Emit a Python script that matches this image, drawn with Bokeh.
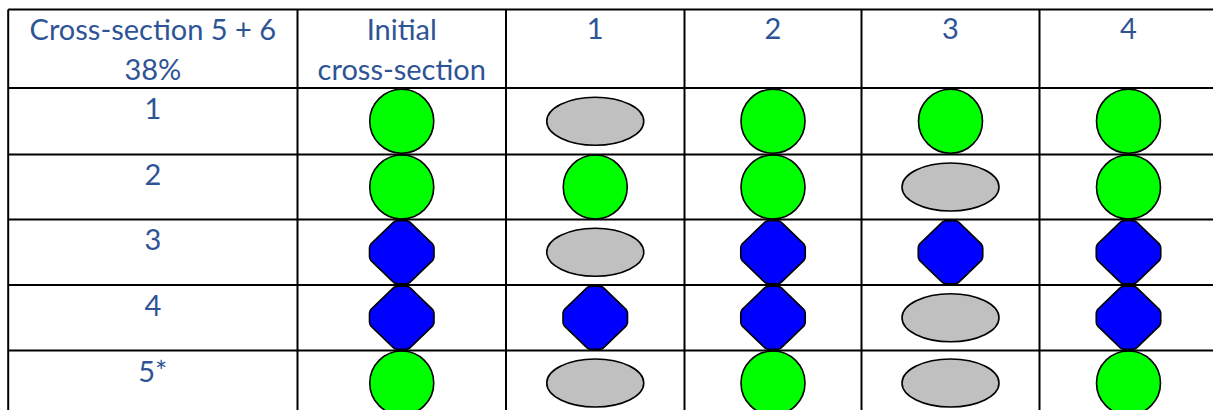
import numpy as np
from bokeh.plotting import figure
from bokeh.models import Range1d
from bokeh.core.properties import value
from bokeh.embed import file_html
from bokeh.resources import INLINE

# ---------------- data ----------------
corner_title = ["Cross-section 5 + 6", "38%"]
column_labels = [["Initial", "cross-section"], ["1"], ["2"], ["3"], ["4"]]
row_labels = ["1", "2", "3", "4", "5*"]
# shape of each cross-section (rows) at each stage (columns: Initial, 1, 2, 3, 4)
shapes = [
    ["circle", "ellipse", "circle", "circle", "circle"],
    ["circle", "circle", "circle", "ellipse", "circle"],
    ["diamond", "ellipse", "diamond", "diamond", "diamond"],
    ["diamond", "diamond", "diamond", "ellipse", "diamond"],
    ["circle", "ellipse", "circle", "ellipse", "circle"],
]

# ---------------- layout / style ----------------
W, H = 1213, 410
left, top = 7.7, 9
col_widths = [289.3, 208.5, 178.5, 177, 178, 178]
row_heights = [78.5, 66.5, 65, 65.5, 65.5, 65]   # header row first
TEXT_COLOR = "#2F5496"
FONT = "Lato"
FONT_SIZE = "29px"
LINE_GAP = 40
BASE_OFF = 32 - 12   # baseline below the cell top, minus renderer offset

styles = {
    "circle": dict(w=64, h=64, fill="#00FF00"),
    "ellipse": dict(w=97, h=48, fill="#C0C0C0"),
    "diamond": dict(w=64.5, h=63, fill="#0000FF"),
}

x_edges = left + np.concatenate([[0], np.cumsum(col_widths)])
y_edges = top + np.concatenate([[0], np.cumsum(row_heights)])
x_centers = (x_edges[:-1] + x_edges[1:]) / 2
y_centers = (y_edges[:-1] + y_edges[1:]) / 2

p = figure(width=W, height=H, x_range=Range1d(0, W), y_range=Range1d(H, 0),
           output_backend="svg", toolbar_location=None, min_border=0)
p.axis.visible = False
p.grid.visible = False
p.outline_line_color = None
p.background_fill_color = "white"
p.border_fill_color = "white"

# ---------- shapes ----------
for kind in ["circle", "ellipse"]:
    xs, ys = [], []
    for r, row in enumerate(shapes):
        for c, s in enumerate(row):
            if s == kind:
                xs.append(x_centers[c + 1])
                ys.append(y_centers[r + 1])
    st = styles[kind]
    p.ellipse(x=xs, y=ys, width=st["w"], height=st["h"], fill_color=st["fill"],
              line_color="black", line_width=1.6)

# rounded diamond outline: small octagon core with rounded corners
st = styles["diamond"]
rad, flat = 7.0, 4.0
Ax, Ay = st["w"] / 2 - rad, st["h"] / 2 - rad
core = [(Ax, flat), (flat, Ay), (-flat, Ay), (-Ax, flat),
        (-Ax, -flat), (-flat, -Ay), (flat, -Ay), (Ax, -flat)]
tx, ty = [], []
for k, (cx, cy) in enumerate(core):
    for th in np.linspace(k * np.pi / 4, (k + 1) * np.pi / 4, 5):
        tx.append(cx + rad * np.cos(th))
        ty.append(cy + rad * np.sin(th))
tx, ty = np.array(tx), np.array(ty)
dxs, dys = [], []
for r, row in enumerate(shapes):
    for c, s in enumerate(row):
        if s == "diamond":
            dxs.append(list(x_centers[c + 1] + tx))
            dys.append(list(y_centers[r + 1] + ty))
p.patches(xs=dxs, ys=dys, fill_color=st["fill"], line_color="black",
          line_width=1.6, line_join="round")

# ---------- grid lines ----------
x0 = list(x_edges) + [x_edges[0]] * len(y_edges)
x1 = list(x_edges) + [x_edges[-1]] * len(y_edges)
y0 = [y_edges[0]] * len(x_edges) + list(y_edges)
y1 = [y_edges[-1]] * len(x_edges) + list(y_edges)
p.segment(x0=x0, y0=y0, x1=x1, y1=y1, line_color="black", line_width=2)

# ---------- texts ----------
tx_, ty_, tt_ = [], [], []
headers = [corner_title] + column_labels
for c, lines in enumerate(headers):
    for i, line in enumerate(lines):
        tx_.append(x_centers[c])
        ty_.append(y_edges[0] + BASE_OFF - 1 + i * LINE_GAP)
        tt_.append(line)
for r, lab in enumerate(row_labels):
    tx_.append(x_centers[0])
    ty_.append(y_edges[r + 1] + BASE_OFF)
    tt_.append(lab)
p.text(x=tx_, y=ty_, text=tt_, text_font=value(FONT), text_font_size=FONT_SIZE,
       text_color=TEXT_COLOR, text_align="center", text_baseline="alphabetic")

open("out.html", "w").write(file_html(p, INLINE))
